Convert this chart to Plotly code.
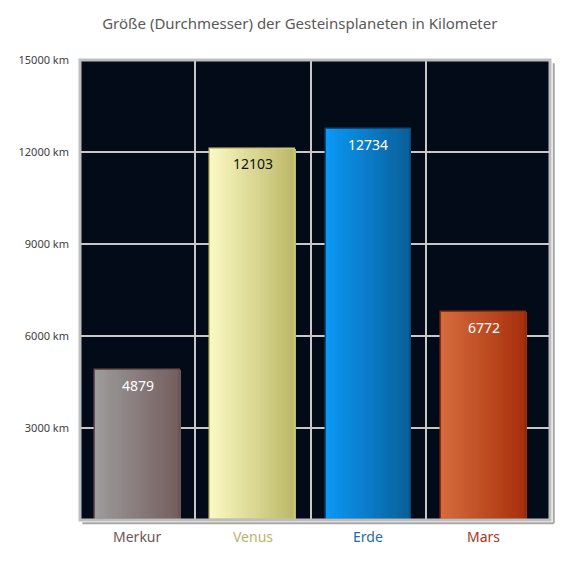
import plotly.graph_objects as go

planets = ["Merkur", "Venus", "Erde", "Mars"]
diameters = [4879, 12103, 12734, 6772]
value_text_colors = ["#ffffff", "#111111", "#ffffff", "#ffffff"]
label_colors = ["#6e5656", "#b9b56a", "#1f6aa8", "#b3321a"]
grad_left = ["#9c9c9c", "#fbf9c2", "#0a98f7", "#d56c3c"]
grad_right = ["#745c5c", "#bab766", "#0a5e97", "#a72e0c"]
border_colors = ["#6a5050", "#c9c77e", "#08497a", "#8e2a0e"]
y_ticks = [3000, 6000, 9000, 12000, 15000]
y_ticktext = [f"{v} km" for v in y_ticks]
title = "Größe (Durchmesser) der Gesteinsplaneten in Kilometer"

FONT = "Noto Sans"
xpos = list(range(len(planets)))
W = 0.737
N = 30


def hex2rgb(h):
    h = h.lstrip("#")
    return tuple(int(h[i:i + 2], 16) for i in (0, 2, 4))


def mix(a, b, t):
    ra, rb = hex2rgb(a), hex2rgb(b)
    return "rgb(%d,%d,%d)" % tuple(round(ra[k] + (rb[k] - ra[k]) * t) for k in range(3))


fig = go.Figure()
sw = W / N
for i in range(N):
    t = (i + 0.5) / N
    fig.add_trace(go.Bar(
        x=xpos, y=diameters,
        width=sw * 1.15, offset=-W / 2 + i * sw,
        marker=dict(color=[mix(grad_left[k], grad_right[k], t) for k in range(len(planets))],
                    line=dict(width=0)),
        hoverinfo="skip", showlegend=False,
    ))

fig.add_trace(go.Bar(
    x=xpos, y=diameters, width=W, offset=-W / 2,
    marker=dict(color="rgba(0,0,0,0)", line=dict(color=border_colors, width=1.5)),
    showlegend=False,
))

for k, p in enumerate(planets):
    fig.add_annotation(x=xpos[k], y=diameters[k], xref="x", yref="y", yshift=-15,
                       yanchor="middle", text=str(diameters[k]), showarrow=False,
                       font=dict(color=value_text_colors[k], size=14, family=FONT))
    fig.add_annotation(x=xpos[k], y=0, xref="x", yref="paper", yshift=-16, yanchor="middle",
                       text=p, showarrow=False,
                       font=dict(color=label_colors[k], size=14, family=FONT))

# border with shadow
fig.add_shape(type="rect", xref="paper", yref="paper", x0=0, x1=1, y0=0, y1=1,
              line=dict(color="#bebebe", width=3), layer="above")
fig.add_shape(type="line", xref="paper", yref="paper", x0=0.005, x1=1.008, y0=-0.007, y1=-0.007,
              line=dict(color="#a6a6a6", width=2), layer="above")
fig.add_shape(type="line", xref="paper", yref="paper", x0=1.008, x1=1.008, y0=-0.007, y1=0.993,
              line=dict(color="#a6a6a6", width=2), layer="above")

fig.update_layout(
    width=570, height=570,
    margin=dict(l=80, r=20, t=60, b=50),
    paper_bgcolor="white", plot_bgcolor="#030a18",
    barmode="overlay", bargap=0,
    title=dict(text=title, x=0.526, xanchor="center", y=0.958, yanchor="middle",
               font=dict(size=15, color="#595959", family=FONT)),
    xaxis=dict(range=[-0.5, 3.576], tickvals=[0.5, 1.5, 2.5], showticklabels=False,
               showgrid=True, gridcolor="#c8c8c8", gridwidth=2, zeroline=False,
               ticks="", fixedrange=True),
    yaxis=dict(range=[0, 15000], tickvals=y_ticks, ticktext=y_ticktext,
               showgrid=True, gridcolor="#c8c8c8", gridwidth=2, zeroline=False,
               ticks="", ticklabelstandoff=10,
               tickfont=dict(size=11, color="#404040", family=FONT)),
)

fig.write_html("out.html")
